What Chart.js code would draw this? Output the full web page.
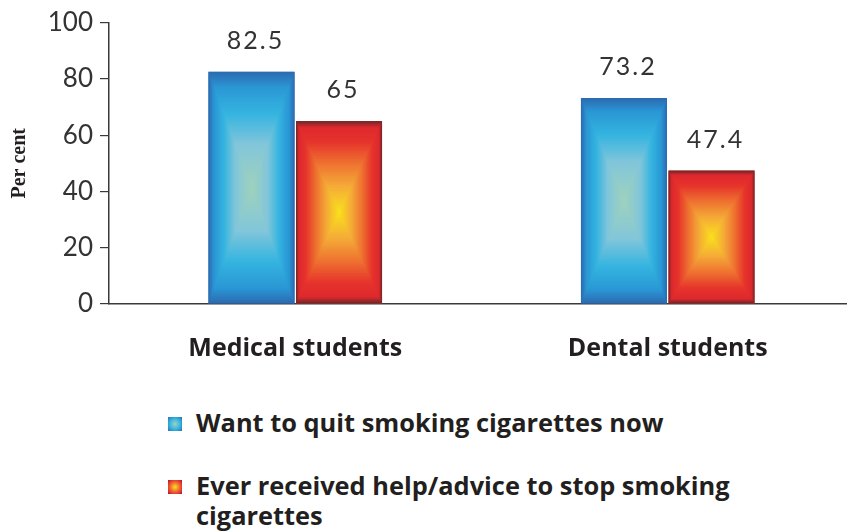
<!DOCTYPE html>
<html>
<head>
<meta charset="utf-8">
<script src="https://cdn.jsdelivr.net/npm/chart.js@4/dist/chart.umd.min.js"></script>
<style>
  html, body { margin: 0; padding: 0; background: #fff; overflow: hidden; width: 847px; height: 532px; }
  #wrap { position: relative; width: 854px; height: 400px; }
  #legend { position: absolute; left: 168px; top: 407px; font-family: "Open Sans", Lato, sans-serif; font-weight: 700; font-size: 25.4px; color: #231f20; }
  .item { display: flex; align-items: flex-start; margin-bottom: 33px; }
  .sw { width: 14px; height: 14px; margin-top: 10px; margin-right: 14px; flex: none; }
  .txt { width: 590px; line-height: 30px; }
</style>
</head>
<body>
<div id="wrap"><canvas id="c" width="854" height="400"></canvas></div>
<div id="legend"></div>
<script>
const categories = ["Medical students", "Dental students"];
const seriesNames = ["Want to quit smoking cigarettes now", "Ever received help/advice to stop smoking cigarettes"];
const wantToQuit = [82.5, 73.2];
const receivedHelp = [65, 47.4];
const valueLabels = [["82.5", "73.2"], ["65", "47.4"]];
const yTicks = [0, 20, 40, 60, 80, 100];

const palettes = [
  [[0, [44, 108, 178]], [0.12, [42, 150, 212]], [0.35, [52, 180, 224]], [0.62, [130, 198, 218]], [1, [160, 210, 188]]],
  [[0, [120, 40, 40]], [0.06, [222, 40, 46]], [0.22, [230, 52, 44]], [0.45, [238, 112, 48]], [0.7, [244, 170, 56]], [1, [250, 226, 28]]]
];
function colorAt(pal, t) {
  for (let i = 1; i < pal.length; i++) {
    if (t <= pal[i][0]) {
      const a = pal[i - 1], b = pal[i];
      const f = (t - a[0]) / (b[0] - a[0]);
      const c = a[1].map((v, k) => Math.round(v + (b[1][k] - v) * f));
      return `rgb(${c[0]},${c[1]},${c[2]})`;
    }
  }
  const l = pal[pal.length - 1][1];
  return `rgb(${l[0]},${l[1]},${l[2]})`;
}

const rectGradient = {
  id: 'rectGradient',
  afterDatasetsDraw(chart) {
    const ctx = chart.ctx;
    chart.data.datasets.forEach((ds, di) => {
      const meta = chart.getDatasetMeta(di);
      meta.data.forEach((bar, i) => {
        const left = bar.x - bar.width / 2, right = bar.x + bar.width / 2;
        const top = Math.min(bar.y, bar.base), bottom = Math.max(bar.y, bar.base);
        const w = right - left, h = bottom - top;
        const N = 60;
        ctx.save();
        for (let s = 0; s <= N; s++) {
          const t = s / N;
          const ix = t * w / 2, iy = t * h / 2;
          ctx.fillStyle = colorAt(palettes[di], t);
          ctx.fillRect(left + ix, top + iy, Math.max(w - 2 * ix, 1), Math.max(h - 2 * iy, 1));
        }
        ctx.restore();
        ctx.save();
        ctx.font = '400 25px Lato, "Open Sans", sans-serif';
        ctx.letterSpacing = '2px';
        ctx.fillStyle = '#333';
        ctx.textAlign = 'center';
        ctx.textBaseline = 'middle';
        ctx.fillText(valueLabels[di][i], bar.x + 4, top - 31);
        ctx.restore();
      });
    });
  }
};

const chart = new Chart(document.getElementById('c'), {
  type: 'bar',
  data: {
    labels: categories,
    datasets: [
      { label: seriesNames[0], data: wantToQuit, backgroundColor: 'rgb(44,108,178)' },
      { label: seriesNames[1], data: receivedHelp, backgroundColor: 'rgb(222,40,46)' }
    ]
  },
  options: {
    responsive: false,
    animation: false,
    events: [],
    layout: { padding: { left: 0, top: 21, right: 0, bottom: 0 } },
    categoryPercentage: 0.47,
    barPercentage: 0.983,
    plugins: { legend: { display: false }, tooltip: { enabled: false } },
    scales: {
      x: {
        grid: { display: true, drawOnChartArea: false, drawTicks: false },
        border: { display: true, color: '#3a3a3a', width: 1.5 },
        ticks: { color: '#231f20', padding: 30, font: { family: '"Open Sans", Lato, sans-serif', size: 25, weight: '700' } },
        afterFit(scale) { scale.height = 96; }
      },
      y: {
        min: 0, max: 100,
        afterBuildTicks(scale) { scale.ticks = yTicks.map(v => ({ value: v })); },
        grid: { display: true, drawOnChartArea: false, drawTicks: true, tickLength: 9, color: '#3a3a3a', lineWidth: 1.2 },
        border: { display: true, color: '#3a3a3a', width: 1.5 },
        ticks: { color: '#333', padding: 7, font: { family: 'Lato, "Open Sans", sans-serif', size: 26, weight: '400' } },
        title: { display: true, text: 'Per cent', color: '#231f20', padding: { top: 8, bottom: 0 }, font: { family: '"Liberation Serif", serif', size: 20, weight: '700' } },
        afterFit(scale) { scale.width = 109; }
      }
    }
  },
  plugins: [rectGradient]
});

const swatchCss = [
  'radial-gradient(circle, rgb(160,210,188) 0%, rgb(52,180,224) 55%, rgb(44,108,178) 100%)',
  'radial-gradient(circle, rgb(250,226,28) 0%, rgb(238,112,48) 45%, rgb(222,40,46) 80%, rgb(120,40,40) 100%)'
];
const legendEl = document.getElementById('legend');
chart.data.datasets.forEach((ds, i) => {
  const item = document.createElement('div');
  item.className = 'item';
  const sw = document.createElement('div');
  sw.className = 'sw';
  sw.style.background = swatchCss[i];
  const tx = document.createElement('div');
  tx.className = 'txt';
  tx.textContent = ds.label;
  item.appendChild(sw); item.appendChild(tx);
  legendEl.appendChild(item);
});
</script>
</body>
</html>
